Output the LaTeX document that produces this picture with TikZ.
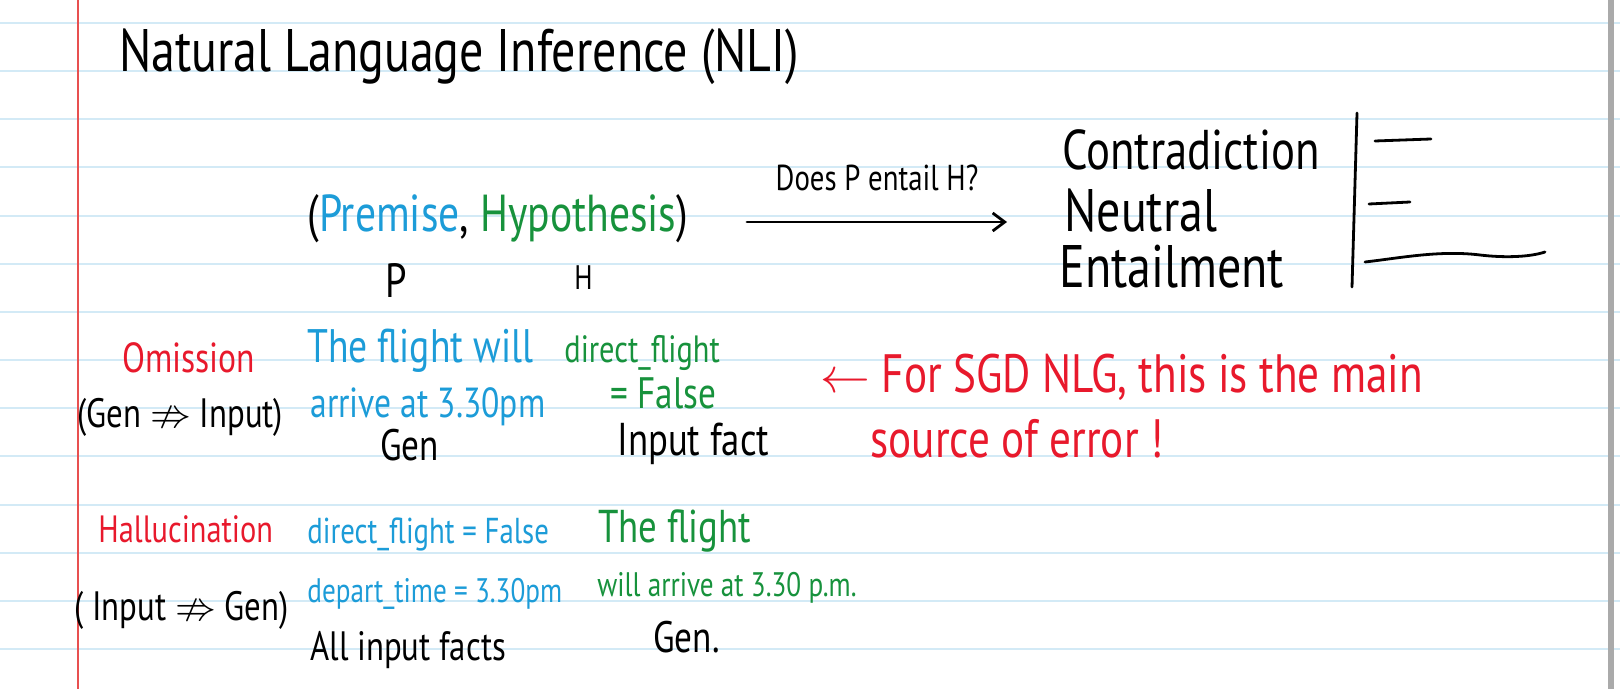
\documentclass[tikz,border=0pt]{standalone}
\usepackage{amssymb}
\usepackage{fontspec}
\setmainfont{PT Sans}[FakeStretch=0.8]
\usepackage{tikz}
\usetikzlibrary{arrows.meta, positioning}
\definecolor{nliblue}{HTML}{1C9CD8}
\definecolor{nligreen}{HTML}{17923C}
\definecolor{nlired}{HTML}{E8192C}
\definecolor{ruleblue}{HTML}{D3EAF6}
\definecolor{marginred}{HTML}{E85050}
\definecolor{edgegray}{HTML}{AAAAAA}

\begin{document}
\begin{tikzpicture}[x=0.5pt, y=-0.5pt, >={Straight Barb[length=6pt, width=9pt]},
  hand/.style={inner sep=0pt, anchor=base west},
  fs/.style={font=\fontsize{#1}{#1}\selectfont},
  ruled/.style={ruleblue, line width=1pt},
  stroke/.style={black, line width=1.4pt, line cap=round}]
  \useasboundingbox (0,0) rectangle (1620,689);
  \fill[white] (0,0) rectangle (1620,689);
  \foreach \k in {0,...,13}
    \draw[ruled] (0,23+48.15*\k) -- (1620,23+48.15*\k);
  \draw[marginred, line width=0.6pt] (78,0) -- (78,689);
  \fill[edgegray] (1608,0) rectangle (1614,689);

  \node[hand, fs=30] (title) at (119,72) {Natural Language Inference (NLI)};

  \node[hand, fs=26] (pair) at (307,232) {(\textcolor{nliblue}{Premise}, \textcolor{nligreen}{Hypothesis})};
  \node[hand, fs=24] (p) at (385,298) {P};
  \node[hand, fs=17] (h) at (574,290) {H};
  \coordinate (askstart) at (747,222);
  \coordinate (askend) at (1007,222);
  \draw[->, stroke] (askstart) -- node[midway, above=15pt, inner sep=0pt, fs=18] (ask) {Does P entail H?} (askend);

  \node[hand, fs=28] (contra) at (1062,170) {Contradiction};
  \node[hand, fs=30] (neutral) at (1064,232) {Neutral};
  \node[hand, fs=30] (entail) at (1059,288) {Entailment};
  \draw[stroke] (1357,113) -- (1352,287);
  \draw[stroke] (1375,141) -- (1431,139);
  \draw[stroke] (1369,204) -- (1410,202);
  \draw[stroke] (1365,262) .. controls (1400,258) and (1440,250) .. (1480,255)
    .. controls (1505,258) and (1530,257) .. (1545,252);

  \node[hand, fs=21, nlired] (omis) at (122,372) {Omission};
  \node[hand, fs=20.5] (omisrule) at (77,427) {(Gen $\nRightarrow$ Input)};
  \node[hand, fs=23.5, nliblue] (omisgen1) at (307,362) {The flight will};
  \node[hand, fs=21, nliblue] (omisgen2) at (310,417) {arrive at 3.30pm};
  \node[hand, fs=22] (omisgenlbl) at (380,460) {Gen};
  \node[hand, fs=19, nligreen] (omisfact1) at (564,363) {direct\_flight};
  \node[hand, fs=22, nligreen] (omisfact2) at (610,408) {= False};
  \node[hand, fs=23] (omisfactlbl) at (617,455) {Input fact};
  \node[hand, fs=27, nlired] (note1) at (820,392) {$\leftarrow$ For SGD NLG, this is the main};
  \node[hand, fs=27, nlired] (note2) at (870,457) {source of error !};

  \node[hand, fs=19, nlired] (hallu) at (98,542) {Hallucination};
  \node[hand, fs=20.5] (hallurule) at (74,620) {( Input $\nRightarrow$ Gen)};
  \node[hand, fs=18, nliblue] (hallufact1) at (307,543) {direct\_flight = False};
  \node[hand, fs=17, nliblue] (hallufact2) at (307,602) {depart\_time = 3.30pm};
  \node[hand, fs=20.5] (hallufactlbl) at (310,660) {All input facts};
  \node[hand, fs=23, nligreen] (hallugen1) at (598,542) {The flight};
  \node[hand, fs=17, nligreen] (hallugen2) at (597,596) {will arrive at 3.30 p.m.};
  \node[hand, fs=22] (hallugenlbl) at (653,652) {Gen.};
\end{tikzpicture}
\end{document}
